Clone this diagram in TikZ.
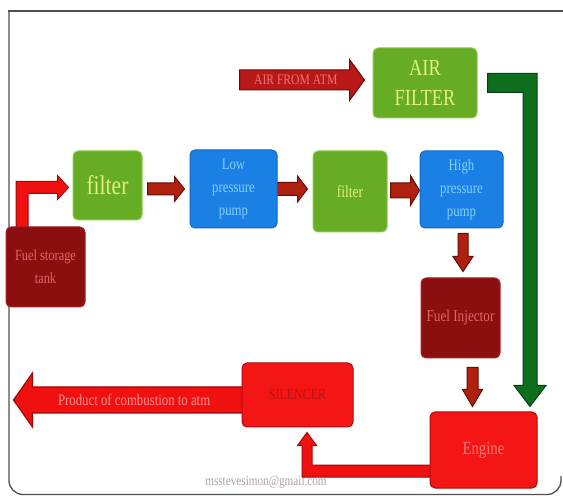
\documentclass[tikz,border=0pt]{standalone}
\usepackage{fontspec}
\setmainfont{Liberation Serif}[FakeStretch=0.8]
\usetikzlibrary{calc}
\pgfdeclarelayer{background}
\pgfdeclarelayer{canvas}
\pgfsetlayers{canvas,background,main}
\definecolor{gfill}{HTML}{66AC24}
\definecolor{gdraw}{HTML}{8CCB4A}
\definecolor{gtext}{HTML}{E2F27A}
\definecolor{bfill}{HTML}{1A80E6}
\definecolor{bdraw}{HTML}{1464C8}
\definecolor{btext}{HTML}{86D0FF}
\definecolor{dfill}{HTML}{8C0F0F}
\definecolor{ddraw}{HTML}{A82020}
\definecolor{dtext}{HTML}{E06868}
\definecolor{rfill}{HTML}{F41515}
\definecolor{rdraw}{HTML}{B00A0A}
\definecolor{siltext}{HTML}{B81515}
\definecolor{engtext}{HTML}{F07A7A}
\definecolor{arfill}{HTML}{B0200F}
\definecolor{ardraw}{HTML}{6A0A05}
\definecolor{brfill}{HTML}{F01010}
\definecolor{brdraw}{HTML}{A00808}
\definecolor{grfill}{HTML}{0F6E1E}
\definecolor{grdraw}{HTML}{074010}
\definecolor{airfill}{HTML}{B81818}
\definecolor{airtext}{HTML}{F07070}
\definecolor{extext}{HTML}{F49494}
\definecolor{wmark}{HTML}{B0A2A2}
\definecolor{framec}{HTML}{505050}
\newcommand\blockarrow[6]{%
  \coordinate (bahead) at ($(#3)!#6pt!(#2)$);
  \filldraw[#1] ($(#2)!#4pt!90:(#3)$) -- ($(bahead)!#4pt!90:(#3)$) -- ($(bahead)!#5pt!90:(#3)$) -- (#3) -- ($(bahead)!#5pt!-90:(#3)$) -- ($(bahead)!#4pt!-90:(#3)$) -- ($(#2)!#4pt!-90:(#3)$) -- cycle;}
\begin{document}
\begin{tikzpicture}[x=1pt,y=-1pt,
  box/.style={rectangle, rounded corners=5pt, line width=1pt, inner sep=0pt, align=center},
  greenbox/.style={box, fill=gfill, draw=gdraw, text=gtext},
  bluebox/.style={box, fill=bfill, draw=bdraw, text=btext},
  darkbox/.style={box, fill=dfill, draw=ddraw, text=dtext},
  redbox/.style={box, fill=rfill, draw=rdraw},
  darrow/.style={fill=arfill, draw=ardraw, line width=1pt, line join=miter},
  brarrow/.style={fill=brfill, draw=brdraw, line width=1pt, line join=miter},
  garrow/.style={fill=grfill, draw=grdraw, line width=1pt, line join=miter},
  airarrow/.style={fill=airfill, draw=ardraw, line width=1pt, line join=miter},
  exarrow/.style={fill=brfill, draw=brdraw, line width=1.2pt, line join=miter},
  frame/.style={draw=framec, line width=1.3pt}
]
\begin{pgfonlayer}{canvas}
\fill[white] (0,0) rectangle (563,497);
\end{pgfonlayer}
\useasboundingbox (0,0) rectangle (563,497);
\draw[frame, line cap=rect] (563,11) -- (9,11);
\draw[frame, rounded corners=14pt] (9,11) -- (9,494.5) -- (561,494.5) -- (561,476);

% boxes
\node[greenbox, minimum width=104pt, minimum height=70pt, font=\fontsize{23}{30}\selectfont] (airf) at (425,83) {AIR\\FILTER};
\node[greenbox, minimum width=69pt, minimum height=69pt, font=\fontsize{27}{30}\selectfont] (f1) at (107.5,185.5) {filter};
\node[bluebox, minimum width=87pt, minimum height=78pt, font=\fontsize{16}{23}\selectfont] (lpp) at (233.5,189) {Low\\pressure\\pump};
\node[greenbox, minimum width=74pt, minimum height=81pt, font=\fontsize{17}{20}\selectfont] (f2) at (350,191.5) {filter};
\node[bluebox, minimum width=83pt, minimum height=77pt, font=\fontsize{16}{23}\selectfont] (hpp) at (461.5,189.5) {High\\pressure\\pump};
\node[darkbox, minimum width=79pt, minimum height=80pt, font=\fontsize{15.5}{23}\selectfont] (tank) at (45.5,267) {Fuel storage\\tank};
\node[darkbox, minimum width=79pt, minimum height=80pt, font=\fontsize{16.5}{20}\selectfont] (inj) at (460.5,318) {Fuel Injector};
\node[redbox, text=engtext, minimum width=107pt, minimum height=76pt, font=\fontsize{18.5}{22}\selectfont] (eng) at (483.5,450) {Engine};
\node[redbox, text=siltext, minimum width=111pt, minimum height=64pt, font=\fontsize{15}{18}\selectfont] (sil) at (297.5,395) {SILENCER};

% connectors
\coordinate (airtip) at ($(airf.west)+(-8,-3)$);
\coordinate (airstart) at ($(airtip)+(-125,0)$);
\coordinate (a2s) at ($(f1.east |- lpp.center)+(5,0)$);
\coordinate (a2t) at ($(lpp.west)+(-5,0)$);
\coordinate (a3s) at ($(lpp.east)+(-2,0)$);
\coordinate (a3t) at ($(f2.west |- lpp.center)+(-5,0)$);
\coordinate (a4s) at ($(f2.east)+(3,-1)$);
\coordinate (a4t) at (hpp.west |- a4s);
\coordinate (a5s) at ($(hpp.south)+(1.5,5)$);
\coordinate (a5t) at ($(a5s |- inj.north)+(0,-6)$);
\coordinate (a6s) at ($(inj.south)+(12,9)$);
\coordinate (a6t) at ($(a6s |- eng.north)+(0,-5)$);
\coordinate (exs) at ($(sil.west)+(4,5)$);
\coordinate (ext) at ($(exs)+(-232,0)$);
\coordinate (l1s) at ($(tank.north west)+(16.5,4)$);
\coordinate (l1t) at ($(f1.west)+(-4,2)$);
\coordinate (l1c) at (l1s |- l1t);
\coordinate (g0) at ($(airf.east)+(10,0)$);
\coordinate (gt) at ($(eng.north east)+(-7.5,-5)$);
\coordinate (gc) at (gt |- g0);
\coordinate (s0) at ($(eng.west)+(3,21)$);
\coordinate (st) at ($(sil.south)+(9.5,5)$);
\coordinate (sc) at (st |- s0);
\begin{pgfonlayer}{background}
\node[text=wmark, font=\fontsize{14}{16}\selectfont, inner sep=0pt] (wm) at (266,482) {msstevesimon@gmail.com};
\blockarrow{airarrow}{airstart}{airtip}{10}{20.5}{15}
\blockarrow{darrow}{a2s}{a2t}{6}{12.5}{10}
\blockarrow{darrow}{a3s}{a3t}{6.5}{13}{10}
\blockarrow{darrow}{a4s}{a4t}{7.5}{15}{9}
\blockarrow{darrow}{a5s}{a5t}{5}{10}{15}
\blockarrow{darrow}{a6s}{a6t}{5.5}{10}{17}
\blockarrow{exarrow}{exs}{ext}{13}{27}{19}
\filldraw[brarrow] ($(l1s)+(-6,0)$) -- ($(l1c)+(-6,-6)$) -- ($(l1t)+(-11,-6)$) -- ($(l1t)+(-11,-12)$) -- (l1t) -- ($(l1t)+(-11,12)$) -- ($(l1t)+(-11,6)$) -- ($(l1c)+(6,6)$) -- ($(l1s)+(6,0)$) -- cycle;
\filldraw[garrow] ($(g0)+(0,-9.5)$) -- ($(gc)+(7,-9.5)$) -- ($(gt)+(7,-21)$) -- ($(gt)+(16,-21)$) -- (gt) -- ($(gt)+(-16,-21)$) -- ($(gt)+(-7,-21)$) -- ($(gc)+(-7,9.5)$) -- ($(g0)+(0,9.5)$) -- cycle;
\filldraw[brarrow] ($(s0)+(0,-6)$) -- ($(sc)+(5,-6)$) -- ($(st)+(5,13)$) -- ($(st)+(9.5,13)$) -- (st) -- ($(st)+(-9.5,13)$) -- ($(st)+(-5,13)$) -- ($(sc)+(-5,6)$) -- ($(s0)+(0,6)$) -- cycle;
\end{pgfonlayer}

% arrow labels
\node[text=airtext, font=\fontsize{14.5}{16}\selectfont, inner sep=0pt] (airlbl) at ($(airstart)!0.45!(airtip)$) {AIR FROM ATM};
\node[text=extext, font=\fontsize{16}{18}\selectfont, inner sep=0pt] (exlbl) at ($(exs)!0.48!(ext)$) {Product of combustion to atm};
\end{tikzpicture}
\end{document}
